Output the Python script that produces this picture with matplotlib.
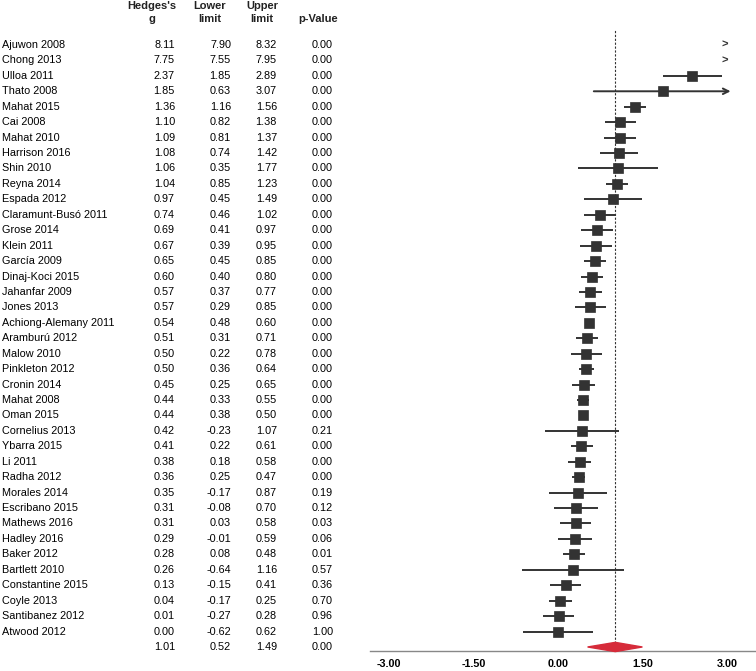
import numpy as np
import matplotlib
matplotlib.use("Agg")
import matplotlib.pyplot as plt
from matplotlib.transforms import blended_transform_factory

plt.rcParams['font.family'] = ['Liberation Sans', 'DejaVu Sans']

studies = ["Ajuwon 2008", "Chong 2013", "Ulloa 2011", "Thato 2008", "Mahat 2015",
           "Cai 2008", "Mahat 2010", "Harrison 2016", "Shin 2010", "Reyna 2014",
           "Espada 2012", "Claramunt-Busó 2011", "Grose 2014", "Klein 2011",
           "García 2009", "Dinaj-Koci 2015", "Jahanfar 2009", "Jones 2013",
           "Achiong-Alemany 2011", "Aramburú 2012", "Malow 2010", "Pinkleton 2012",
           "Cronin 2014", "Mahat 2008", "Oman 2015", "Cornelius 2013", "Ybarra 2015",
           "Li 2011", "Radha 2012", "Morales 2014", "Escribano 2015", "Mathews 2016",
           "Hadley 2016", "Baker 2012", "Bartlett 2010", "Constantine 2015",
           "Coyle 2013", "Santibanez 2012", "Atwood 2012"]
g = [8.11, 7.75, 2.37, 1.85, 1.36, 1.10, 1.09, 1.08, 1.06, 1.04, 0.97, 0.74, 0.69,
     0.67, 0.65, 0.60, 0.57, 0.57, 0.54, 0.51, 0.50, 0.50, 0.45, 0.44, 0.44, 0.42,
     0.41, 0.38, 0.36, 0.35, 0.31, 0.31, 0.29, 0.28, 0.26, 0.13, 0.04, 0.01, 0.00]
lower = [7.90, 7.55, 1.85, 0.63, 1.16, 0.82, 0.81, 0.74, 0.35, 0.85, 0.45, 0.46, 0.41,
         0.39, 0.45, 0.40, 0.37, 0.29, 0.48, 0.31, 0.22, 0.36, 0.25, 0.33, 0.38, -0.23,
         0.22, 0.18, 0.25, -0.17, -0.08, 0.03, -0.01, 0.08, -0.64, -0.15, -0.17, -0.27, -0.62]
upper = [8.32, 7.95, 2.89, 3.07, 1.56, 1.38, 1.37, 1.42, 1.77, 1.23, 1.49, 1.02, 0.97,
         0.95, 0.85, 0.80, 0.77, 0.85, 0.60, 0.71, 0.78, 0.64, 0.65, 0.55, 0.50, 1.07,
         0.61, 0.58, 0.47, 0.87, 0.70, 0.58, 0.59, 0.48, 1.16, 0.41, 0.25, 0.28, 0.62]
pval = [0.00] * 25 + [0.21, 0.00, 0.00, 0.00, 0.19, 0.12, 0.03, 0.06, 0.01, 0.57,
                      0.36, 0.70, 0.96, 1.00]
summary = (1.01, 0.52, 1.49, 0.00)
xticks = [-3.0, -1.5, 0.0, 1.5, 3.0]

W, H = 756, 671
fig = plt.figure(figsize=(W / 100, H / 100), dpi=100)

# plot panel in pixel terms
left_px, right_px, top_px, bot_px = 370, 756, 30, 651
ax = fig.add_axes([left_px / W, 1 - bot_px / H, (right_px - left_px) / W, (bot_px - top_px) / H])
ax.set_xlim(-3.33, 3.50)
ax.set_ylim(39.26, -0.97)
for s in ['top', 'right', 'left']:
    ax.spines[s].set_visible(False)
ax.spines['bottom'].set_color('#888888')
ax.spines['bottom'].set_linewidth(1.0)
ax.set_yticks([])
ax.set_xticks(xticks)
ax.set_xticklabels([f"{t:.2f}" for t in xticks], fontsize=7.8, fontweight='bold')
ax.tick_params(axis='x', length=0, pad=6)

dark = '#333333'
ci_w = (np.array(upper) - np.array(lower)) / 2
se = ci_w / 1.96
w = 1 / (se ** 2 + 4.0)
sizes = 7.0 * np.sqrt(w / w.max())
xmax = 3.0
for i in range(len(studies)):
    lo, hi, est = lower[i], upper[i], g[i]
    if lo > xmax:
        ax.text(2.94, i, ">", ha='center', va='center', fontsize=8, color=dark, fontweight='bold')
        continue
    if hi > xmax:
        ax.annotate("", xy=(3.05, i), xytext=(lo, i),
                    arrowprops=dict(arrowstyle='->', color=dark, lw=1.4, shrinkA=0, shrinkB=0))
    else:
        ax.plot([lo, hi], [i, i], color=dark, lw=1.4, solid_capstyle='butt')
    ax.plot(est, i, marker='s', ms=sizes[i], color=dark, mec=dark, mew=0.5)

n = len(studies)
ax.axvline(summary[0], color=dark, lw=0.8, ls=(0, (2, 1.5)), ymin=0, ymax=1)
ax.fill([summary[1], summary[0], summary[2], summary[0]],
        [n, n - 0.3, n, n + 0.3], color='#d62b3a', zorder=3, clip_on=False)

# table columns
tr = blended_transform_factory(fig.transFigure, ax.transData)
fs = 7.8
for i in range(n):
    ax.text(2 / W, i, studies[i], transform=tr, fontsize=fs, va='center', ha='left', clip_on=False)
    ax.text(175 / W, i, f"{g[i]:.2f}", transform=tr, fontsize=fs, va='center', ha='right', clip_on=False)
    ax.text(231 / W, i, f"{lower[i]:.2f}", transform=tr, fontsize=fs, va='center', ha='right', clip_on=False)
    ax.text(277 / W, i, f"{upper[i]:.2f}", transform=tr, fontsize=fs, va='center', ha='right', clip_on=False)
    ax.text(333 / W, i, f"{pval[i]:.2f}", transform=tr, fontsize=fs, va='center', ha='right', clip_on=False)
ax.text(175 / W, n, f"{summary[0]:.2f}", transform=tr, fontsize=fs, va='center', ha='right', clip_on=False)
ax.text(231 / W, n, f"{summary[1]:.2f}", transform=tr, fontsize=fs, va='center', ha='right', clip_on=False)
ax.text(277 / W, n, f"{summary[2]:.2f}", transform=tr, fontsize=fs, va='center', ha='right', clip_on=False)
ax.text(333 / W, n, f"{summary[3]:.2f}", transform=tr, fontsize=fs, va='center', ha='right', clip_on=False)

# headers
hdr = dict(fontsize=8.0, fontweight='bold', ha='center', va='center', color='#222222')
fig.text(152 / W, 1 - 6 / H, "Hedges's", **hdr)
fig.text(152 / W, 1 - 19 / H, "g", **hdr)
fig.text(210 / W, 1 - 6 / H, "Lower", **hdr)
fig.text(210 / W, 1 - 19 / H, "limit", **hdr)
fig.text(262 / W, 1 - 6 / H, "Upper", **hdr)
fig.text(262 / W, 1 - 19 / H, "limit", **hdr)
fig.text(318 / W, 1 - 19 / H, "p-Value", **hdr)

fig.savefig("out.png", dpi=100)
